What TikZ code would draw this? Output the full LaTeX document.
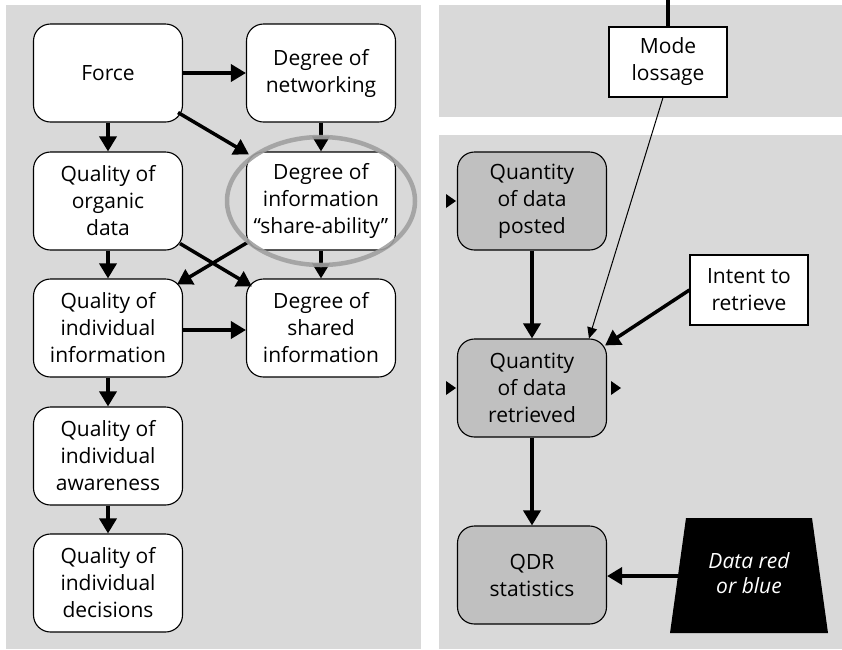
\documentclass[tikz,border=0pt]{standalone}
\usepackage{fontspec}
\setmainfont{Open Sans}
\usetikzlibrary{arrows.meta,calc,positioning}
\definecolor{panel}{HTML}{D9D9D9}
\definecolor{nodegray}{HTML}{C0C0C0}
\definecolor{ringgray}{HTML}{A0A0A0}
\tikzset{
  rbox/.style={draw=black, line width=1.1pt, fill=white, rounded corners=17pt,
    minimum width=149pt, minimum height=98pt, inner sep=0pt, align=center,
    font=\fontsize{21}{27}\selectfont},
  gbox/.style={rbox, fill=nodegray},
  sbox/.style={draw=black, line width=1.1pt, fill=white, minimum width=118pt,
    minimum height=70pt, inner sep=0pt, align=center,
    font=\fontsize{21}{27}\selectfont},
  conn/.style={line width=3.5pt, -{Triangle[length=15pt,width=17pt]}},
  thinconn/.style={line width=1pt, -{Triangle[length=11pt,width=10pt]}},
}
\begin{document}
\begin{tikzpicture}[x=1pt,y=-1pt]
\useasboundingbox (0,0) rectangle (842,649);
% panels
\fill[panel] (6,5) rectangle (421,649);
\fill[panel] (439,5) rectangle (842,117);
\fill[panel] (439,135) rectangle (842,649);

% left column
\node[rbox] (force) at (108,73) {Force};
\node[rbox] (net) at (321,73) {Degree of\\networking};
\node[rbox] (org) at (108,201) {Quality of\\organic\\data};
\node[rbox] (share) at (321,201) {Degree of\\information\\“share-ability”};
\node[rbox] (indinf) at (108,328) {Quality of\\individual\\information};
\node[rbox] (shared) at (321,328) {Degree of\\shared\\information};
\node[rbox] (aware) at (108,456) {Quality of\\individual\\awareness};
\node[rbox] (dec) at (108,583) {Quality of\\individual\\decisions};

\draw[conn] (force.east) -- (net.west);
\draw[conn] (force.south) -- (org.north);
\draw[conn] ($(force.south east)+(-5,-10)$) -- ($(share.north west)+(3,3)$);
\draw[conn] (net.south) -- (share.north);
\draw[conn] (org.south) -- (indinf.north);
\draw[conn] ($(org.south east)+(-3,-7)$) -- ($(shared.north west)+(6,8)$);
\draw[conn] ($(share.south west)+(3,-9)$) -- ($(indinf.north east)+(-6,6)$);
\draw[conn] (share.south) -- (shared.north);
\draw[conn] ($(indinf.east)+(0,2)$) -- ($(shared.west)+(0,2)$);
\draw[conn] (indinf.south) -- (aware.north);
\draw[conn] (aware.south) -- (dec.north);

% highlight ring
\draw[ringgray, line width=4.5pt, opacity=0.9] (321,201) ellipse [x radius=94pt, y radius=64pt];

% right side
\node[sbox] (mode) at (668,62) {Mode\\lossage};
\coordinate (topend) at (668,0);
\draw[line width=3.5pt] (topend) -- (mode.north);

\node[gbox] (posted) at (532,201) {Quantity\\of data\\posted};
\node[gbox] (retr) at (532,388) {Quantity\\of data\\retrieved};
\node[gbox] (qdr) at (532,575) {QDR\\statistics};
\node[sbox] (intent) at (749,290) {Intent to\\retrieve};

\draw[conn] (posted.south) -- (retr.north);
\draw[conn] (retr.south) -- (qdr.north);
\draw[thinconn] ($(mode.south)+(-5,0)$) -- ($(retr.north)+(57,0)$);
\draw[conn] (intent.west) -- ($(retr.north east)+(-2,7)$);

% data trapezoid
\fill[black] (686,518) -- (812,518) -- (828,633) -- (670,633) -- cycle;
\node[text=white, align=center, font=\fontsize{21}{25}\itshape\selectfont] (data) at (749,573) {Data red\\or blue};
\coordinate (dataL) at (678,576);
\draw[conn] (dataL) -- (qdr.east |- dataL);

% small input/output triangles
\fill[black] (446,194) -- (456,201) -- (446,208) -- cycle;
\fill[black] (446,381) -- (456,388) -- (446,395) -- cycle;
\fill[black] (611,381) -- (621,388) -- (611,395) -- cycle;
\end{tikzpicture}
\end{document}
